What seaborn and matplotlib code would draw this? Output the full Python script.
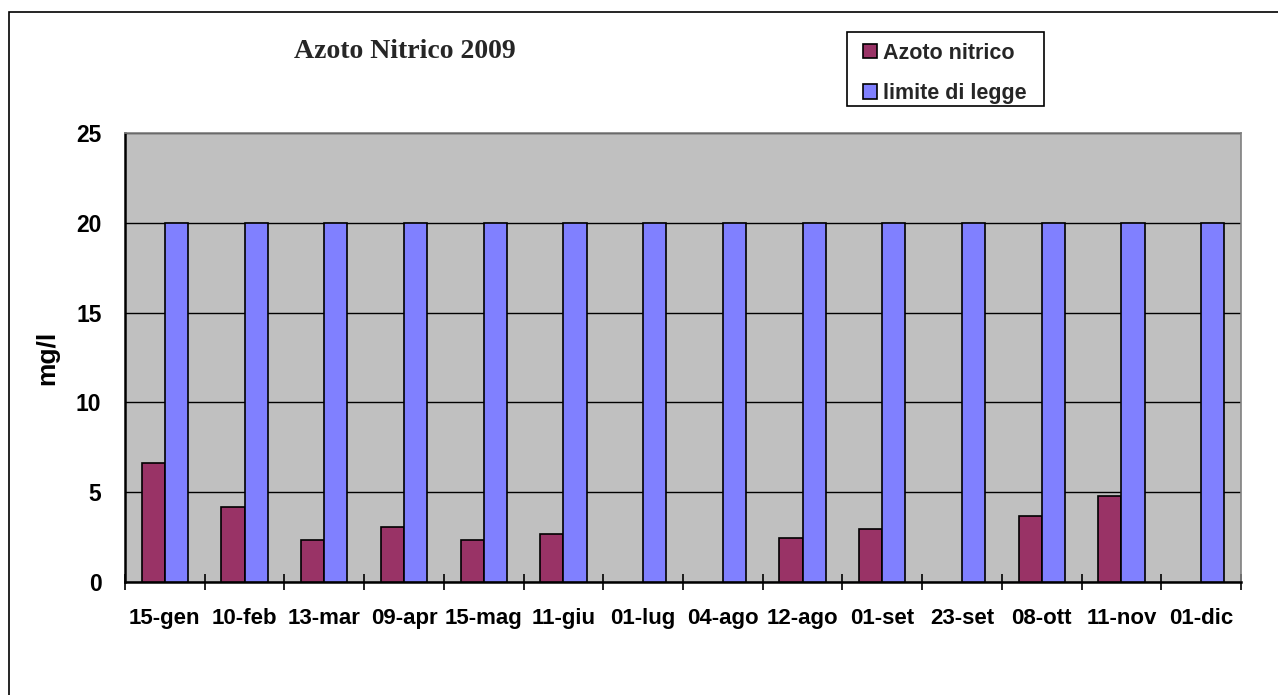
import numpy as np
import pandas as pd
import seaborn as sns
import matplotlib.pyplot as plt
from matplotlib.patches import Rectangle

# dati
date = ['15-gen', '10-feb', '13-mar', '09-apr', '15-mag', '11-giu', '01-lug',
        '04-ago', '12-ago', '01-set', '23-set', '08-ott', '11-nov', '01-dic']
azoto_nitrico = [6.6, 4.2, 2.35, 3.05, 2.35, 2.7, np.nan,
                 np.nan, 2.45, 2.95, np.nan, 3.65, 4.8, np.nan]
limite_legge = [20] * 14

df = pd.DataFrame({
    'data': date * 2,
    'valore': azoto_nitrico + limite_legge,
    'serie': ['Azoto nitrico'] * 14 + ['limite di legge'] * 14,
})

sns.set_style('white')
plt.rcParams['font.family'] = ['Liberation Sans', 'DejaVu Sans']

W, H = 1278, 695
fig = plt.figure(figsize=(W / 100, H / 100), dpi=100)
ax = fig.add_axes([125 / W, 1 - 582 / H, (1241 - 125) / W, (582 - 133) / H])
ax.set_facecolor('#C0C0C0')

sns.barplot(data=df, x='data', y='valore', hue='serie', order=date,
            palette={'Azoto nitrico': '#993366', 'limite di legge': '#8080FF'},
            width=0.58, edgecolor='black', linewidth=1.2, errorbar=None,
            saturation=1, ax=ax, zorder=3)

ax.set_ylim(0, 25)
ax.set_xlim(-0.5, len(date) - 0.5)
ax.set_yticks([0, 5, 10, 15, 20, 25])
ax.yaxis.grid(True, color='black', linewidth=1)
ax.set_axisbelow(True)
ax.tick_params(axis='y', direction='out', length=7, width=1.2, color='black',
               labelsize=16.5, labelcolor='black', pad=10)
for t in ax.get_yticklabels():
    t.set_fontweight('bold')

# tacche dell'asse x tra le categorie
ax.set_xticks(np.arange(len(date)))
ax.set_xticklabels(date, fontsize=16, fontweight='bold', color='black')
ax.set_xticks(np.arange(len(date) + 1) - 0.5, minor=True)
ax.tick_params(axis='x', which='major', length=0, pad=19)
ax.tick_params(axis='x', which='minor', direction='inout', length=12, width=1.2,
               color='black', bottom=True)

ax.set_xlabel('')
ax.set_ylabel('mg/l', fontsize=19, fontweight='bold', color='black', labelpad=12)

for s in ['left', 'bottom']:
    ax.spines[s].set_color('black')
    ax.spines[s].set_linewidth(1.8)
for s in ['top', 'right']:
    ax.spines[s].set_color('#808080')
    ax.spines[s].set_linewidth(1.2)

fig.text(405 / W, 1 - 52 / H, 'Azoto Nitrico 2009', ha='center', va='center',
         fontsize=20, fontweight='bold', family=['Liberation Serif', 'DejaVu Serif'])

leg = ax.legend(loc='upper left', bbox_to_anchor=(852 / W, 1 - 32 / H),
                bbox_transform=fig.transFigure, frameon=False,
                prop={'weight': 'bold', 'size': 15.5}, handlelength=0.65,
                handleheight=0.65, handletextpad=0.3, labelspacing=0.89,
                borderpad=0.5, borderaxespad=0)

# riquadro della legenda
fig.patches.append(Rectangle((847 / W, 1 - 106 / H), (1044 - 847) / W, 74 / H,
                             transform=fig.transFigure, fill=False,
                             edgecolor='black', linewidth=1.2))

# cornice esterna
fig.patches.append(Rectangle((9 / W, -0.1), 1.2, 1 - 12 / H + 0.1,
                             transform=fig.transFigure, fill=False,
                             edgecolor='black', linewidth=1.2))

fig.savefig('out.png', dpi=100)
